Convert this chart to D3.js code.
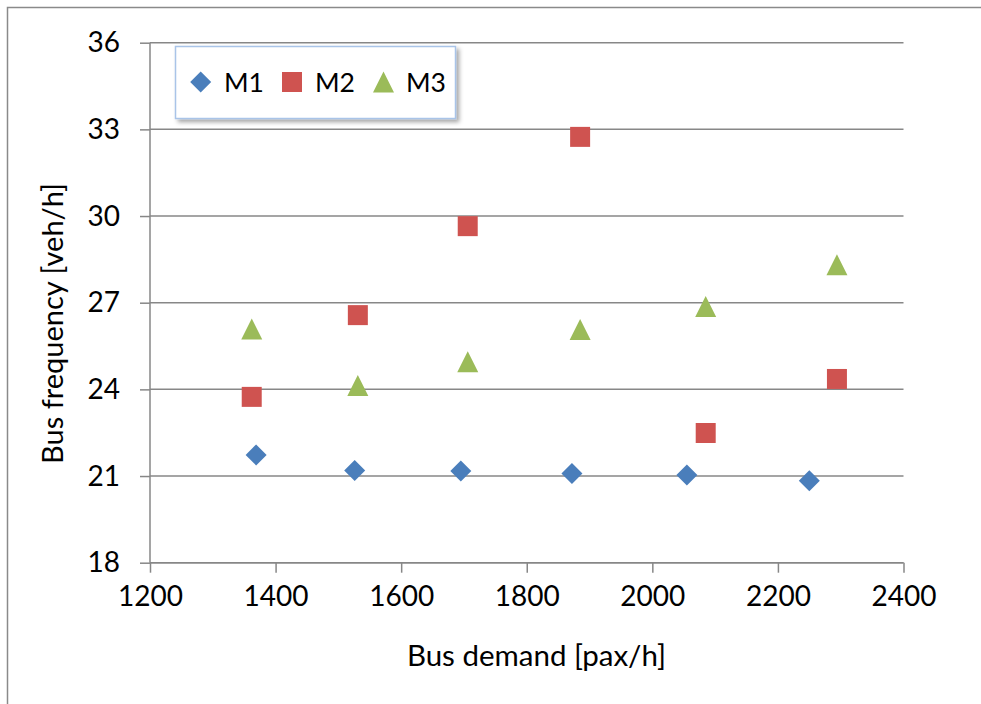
<!DOCTYPE html>
<html>
<head>
<meta charset="utf-8">
<script src="https://cdn.jsdelivr.net/npm/d3@7"></script>
<style>
  html, body { margin: 0; padding: 0; background: #fff; }
  svg { display: block; font-family: Lato, "Open Sans", sans-serif; }
</style>
</head>
<body>
<svg id="chart" width="981" height="704"></svg>
<script>
// Bus demand [pax/h] for each model run
const demandM1 = [1369, 1526, 1695, 1872, 2055, 2250];
const demandM2 = [1362, 1531, 1706, 1885, 2085, 2294];
const demandM3 = [1362, 1531, 1706, 1885, 2085, 2294];

// Bus frequency [veh/h]
const freqM1 = [21.73, 21.19, 21.17, 21.09, 21.04, 20.84];
const freqM2 = [23.74, 26.57, 29.65, 32.74, 22.49, 24.36];
const freqM3 = [26.09, 24.13, 24.96, 26.07, 26.87, 28.31];

const seriesNames = ["M1", "M2", "M3"];
const xTicks = [1200, 1400, 1600, 1800, 2000, 2200, 2400];
const yTicks = [18, 21, 24, 27, 30, 33, 36];

const colors = { M1: "#4a7ebb", M2: "#cf5350", M3: "#9bbb59" };

const series = [
  { name: "M1", xs: demandM1, ys: freqM1, shape: "diamond" },
  { name: "M2", xs: demandM2, ys: freqM2, shape: "square" },
  { name: "M3", xs: demandM3, ys: freqM3, shape: "triangle" }
];

const svg = d3.select("#chart");

const plot = { left: 150, right: 903.5, top: 42.7, bottom: 562.7 };

const x = d3.scaleLinear().domain([1200, 2400]).range([plot.left, plot.right]);
const y = d3.scaleLinear().domain([18, 36]).range([plot.bottom, plot.top]);

// marker outlines, centred on the data point
function markerPath(shape) {
  if (shape === "diamond") return "M0,-10.5L10.5,0L0,10.5L-10.5,0Z";
  if (shape === "square") return "M-10,-10H10V10H-10Z";
  return "M0,-10.5L10.5,10.5L-10.5,10.5Z";
}

// drop shadow for the legend box
const defs = svg.append("defs");
const f = defs.append("filter").attr("id", "shadow")
  .attr("x", "-10%").attr("y", "-20%").attr("width", "130%").attr("height", "160%");
f.append("feDropShadow").attr("dx", 3).attr("dy", 3).attr("stdDeviation", 2.2)
  .attr("flood-color", "#000").attr("flood-opacity", 0.35);

// chart frame
svg.append("path")
  .attr("d", "M7.5,704V7.5H981")
  .attr("fill", "none").attr("stroke", "#8a8a8a").attr("stroke-width", 1.5);

// gridlines
svg.append("g")
  .selectAll("line")
  .data(yTicks)
  .join("line")
  .attr("x1", plot.left).attr("x2", plot.right)
  .attr("y1", d => y(d)).attr("y2", d => y(d))
  .attr("stroke", "#878787").attr("stroke-width", 1.5);

// y axis
const yAxis = svg.append("g")
  .attr("transform", `translate(${plot.left},0)`)
  .call(d3.axisLeft(y).tickValues(yTicks).tickSize(10).tickPadding(20).tickFormat(d3.format("d")));
yAxis.select(".domain").attr("stroke", "#878787").attr("stroke-width", 1.5)
  .attr("d", `M0,${plot.top}V${plot.bottom}`);
yAxis.selectAll(".tick line").attr("stroke", "#878787").attr("stroke-width", 1.5);
yAxis.selectAll(".tick text").attr("font-size", 28).attr("fill", "#000")
  .attr("font-family", "Lato, sans-serif");

// x axis
const xAxis = svg.append("g")
  .attr("transform", `translate(0,${plot.bottom})`)
  .call(d3.axisBottom(x).tickValues(xTicks).tickSize(10).tickPadding(13).tickFormat(d3.format("d")));
xAxis.select(".domain").attr("stroke", "#878787").attr("stroke-width", 1.5)
  .attr("d", `M${plot.left},0H${plot.right}`);
xAxis.selectAll(".tick line").attr("stroke", "#878787").attr("stroke-width", 1.5);
xAxis.selectAll(".tick text").attr("font-size", 28).attr("fill", "#000")
  .attr("font-family", "Lato, sans-serif");

// axis titles
svg.append("text")
  .attr("x", 536.5).attr("y", 666)
  .attr("text-anchor", "middle").attr("font-size", 29.5)
  .text("Bus demand [pax/h]");

svg.append("text")
  .attr("transform", "translate(63,323.5) rotate(-90)")
  .attr("text-anchor", "middle").attr("font-size", 29)
  .text("Bus frequency [veh/h]");

// data points
series.forEach(s => {
  svg.append("g")
    .selectAll("path")
    .data(s.xs.map((v, i) => [v, s.ys[i]]))
    .join("path")
    .attr("d", markerPath(s.shape))
    .attr("transform", d => `translate(${x(d[0])},${y(d[1])})`)
    .attr("fill", colors[s.name]);
});

// legend
const legend = svg.append("g");
legend.append("rect")
  .attr("x", 175.5).attr("y", 46.5).attr("width", 280).attr("height", 72)
  .attr("fill", "#fff").attr("stroke", "#a9c4e8").attr("stroke-width", 1.5)
  .attr("filter", "url(#shadow)");

const legendItems = [
  { name: "M1", shape: "diamond", mx: 200.7, tx: 224 },
  { name: "M2", shape: "square", mx: 292, tx: 315 },
  { name: "M3", shape: "triangle", mx: 383.5, tx: 406 }
];
legendItems.forEach(it => {
  legend.append("path")
    .attr("d", markerPath(it.shape))
    .attr("transform", `translate(${it.mx},82)`)
    .attr("fill", colors[it.name]);
  legend.append("text")
    .attr("x", it.tx).attr("y", 91.7)
    .attr("font-size", 26.5)
    .text(it.name);
});
</script>
</body>
</html>
